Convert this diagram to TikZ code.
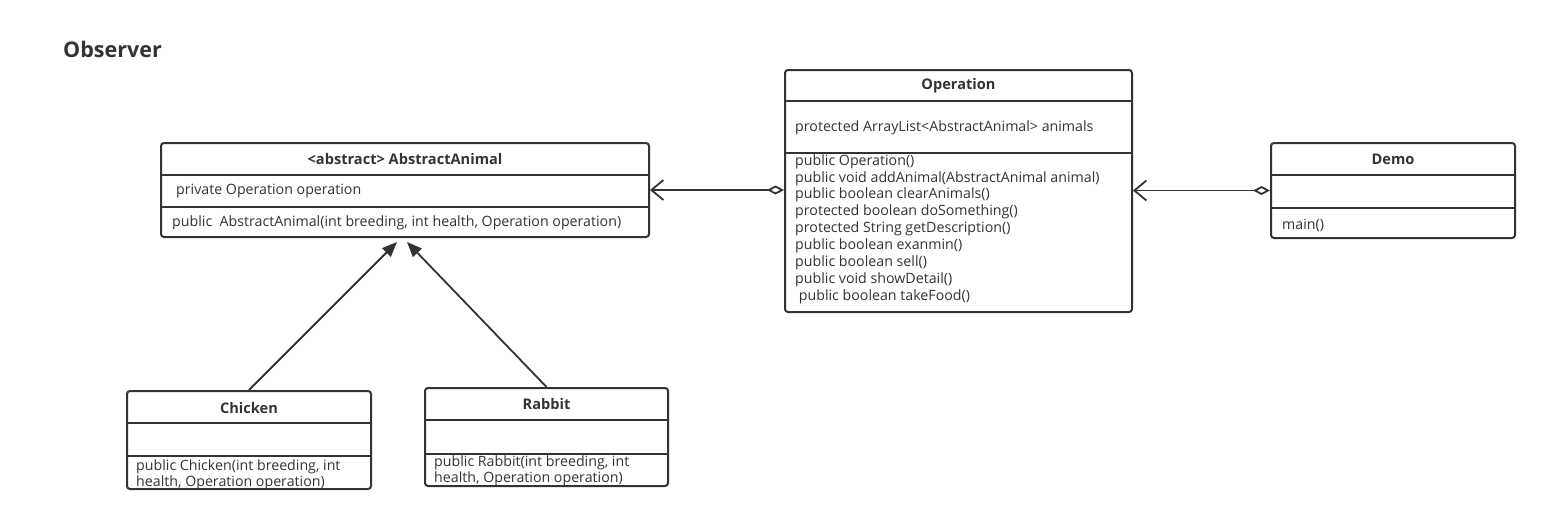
\documentclass[tikz,border=0pt]{standalone}
\usepackage{fontspec}
\setmainfont{Open Sans}
\usetikzlibrary{arrows.meta,calc}
\definecolor{ink}{HTML}{333333}
\tikzset{
  umlbox/.style={draw=ink, line width=2pt, rounded corners=3pt, inner sep=0pt},
  sep/.style={draw=ink, line width=1.8pt},
  ttl/.style={font=\fontsize{14.6}{16}\selectfont\bfseries, text=ink, inner sep=0pt},
  txt/.style={font=\fontsize{14.2}{16}\selectfont, text=ink, inner sep=0pt, anchor=west},
  agg/.style={draw=ink, line width=1.8pt, {Straight Barb[length=12pt,width=20pt,line width=1.8pt]}-{Diamond[open,fill=white,length=17pt,width=9pt,line width=1.8pt]}},
  gen/.style={draw=ink, line width=1.8pt, -{Triangle[length=15pt,width=12pt]}}
}
\begin{document}
\begin{tikzpicture}[x=1pt,y=-1pt]
\useasboundingbox (0,0) rectangle (1568,506);
\node[anchor=west, inner sep=0pt, font=\fontsize{21.5}{24}\selectfont\bfseries, text=ink] (title) at (63,49) {Observer};

% AbstractAnimal
\node[umlbox, minimum width=488pt, minimum height=94pt] (aa) at (405,190) {};
\draw[sep] (161,175) -- (649,175);
\draw[sep] (161,207) -- (649,207);
\node[ttl] (aat) at (405,159) {<abstract> AbstractAnimal};
\node[txt] (aaa) at (176,191) {private Operation operation};
\node[txt] (aam) at (172,223) {public\ \ AbstractAnimal(int breeding, int health, Operation operation)};

% Operation
\node[umlbox, minimum width=347pt, minimum height=242pt] (op) at (958.5,191) {};
\draw[sep] (785,101) -- (1132,101);
\draw[sep] (785,153) -- (1132,153);
\node[ttl] (opt) at (958.5,86) {Operation};
\node[txt] (opa) at (795,128) {protected ArrayList<AbstractAnimal> animals};
\foreach \t [count=\i from 0] in {public Operation(),
  public void addAnimal(AbstractAnimal animal),
  public boolean clearAnimals(),
  protected boolean doSomething(),
  protected String getDescription(),
  public boolean exanmin(),
  public boolean sell(),
  public void showDetail(),
  \ public boolean takeFood()}
  \node[txt] (opm\i) at (795,{161.5+\i*16.9}) {\t};

% Demo
\node[umlbox, minimum width=244pt, minimum height=95pt] (demo) at (1393,190.5) {};
\draw[sep] (1271,175) -- (1515,175);
\draw[sep] (1271,208) -- (1515,208);
\node[ttl] (demot) at (1393,159) {Demo};
\node[txt] (demom) at (1282,225) {main()};

% Chicken
\node[umlbox, minimum width=244pt, minimum height=98pt] (ch) at (249,440) {};
\draw[sep] (127,423) -- (371,423);
\draw[sep] (127,456) -- (371,456);
\node[ttl] (cht) at (249,408) {Chicken};
\node[txt] (chm1) at (136,467) {public Chicken(int breeding, int};
\node[txt] (chm2) at (136,482.5) {health, Operation operation)};

% Rabbit
\node[umlbox, minimum width=243pt, minimum height=98pt] (rb) at (546.5,437) {};
\draw[sep] (425,420) -- (668,420);
\draw[sep] (425,454) -- (668,454);
\node[ttl] (rbt) at (546.5,404) {Rabbit};
\node[txt] (rbm1) at (434,463) {public Rabbit(int breeding, int};
\node[txt] (rbm2) at (434,479) {health, Operation operation)};

% connectors
\draw[agg] (aa.east) -- (op.west |- aa.east);
\draw[agg] (op.east |- demo.west) -- (demo.west);
\draw[gen] ($(ch.north west)+(123,0)$) -- ($(aa.south west)+(237,4)$);
\draw[gen] (rb.north) -- ($(aa.south west)+(247,4)$);
\end{tikzpicture}
\end{document}
